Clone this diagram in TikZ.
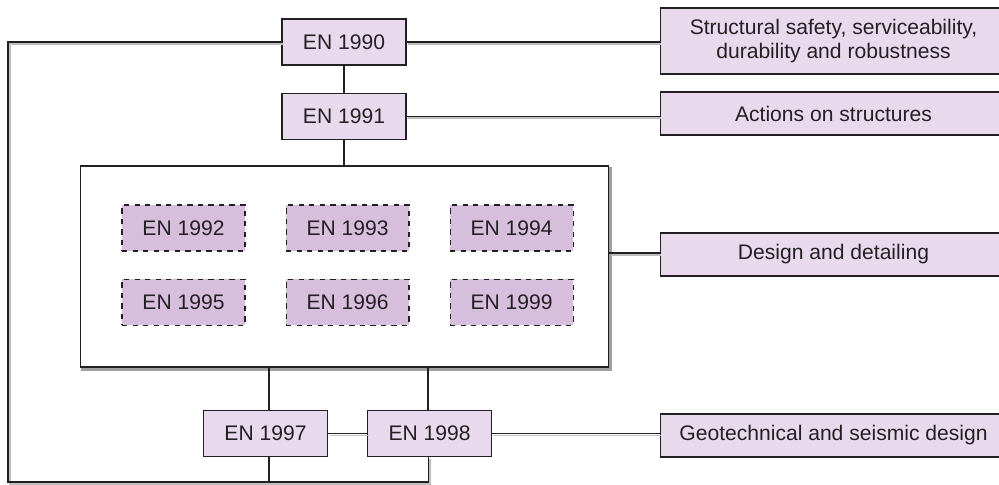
\documentclass[tikz,border=0pt]{standalone}
\usepackage{fontspec}
\setmainfont{Liberation Sans}
\usepackage{tikz}
\usetikzlibrary{positioning,calc}
\definecolor{lavlight}{RGB}{232,218,236}
\definecolor{lavmid}{RGB}{216,190,221}
\definecolor{edge}{RGB}{35,32,35}

\begin{document}
\begin{tikzpicture}[x=0.02cm, y=-0.02cm, font=\fontsize{12}{13.5}\selectfont, text=edge]
\tikzstyle{enbox}=[draw=edge, line width=0.6pt, fill=lavlight, minimum width=2.48cm, minimum height=0.92cm, inner sep=0pt]
\tikzstyle{subbox}=[draw=edge, dashed, line width=0.6pt, fill=lavmid, minimum width=2.46cm, minimum height=0.92cm, inner sep=0pt]
\tikzstyle{topic}=[draw=edge, line width=0.6pt, fill=lavlight, minimum width=6.94cm, minimum height=0.86cm, align=center, inner sep=0pt]
\tikzstyle{group}=[draw=edge, line width=0.6pt, fill=white, minimum width=10.58cm, minimum height=4.02cm, preaction={draw=gray!75, line width=1.4pt, transform canvas={shift={(1pt,-1.5pt)}}}]
\tikzstyle{line}=[draw=edge, line width=0.7pt]
\tikzstyle{link}=[draw=edge, line width=0.6pt, preaction={draw=gray!50, line width=0.9pt, transform canvas={shift={(1.1pt,-1.2pt)}}}]
\useasboundingbox (0,0) rectangle (999,484);
% standards column
\node[enbox] (en1990) at (344,42) {EN 1990};
\node[enbox, below=0.54cm of en1990] (en1991) {EN 1991};
\node[group] (grp) at (344.5,266.5) {};
\node[subbox] (en1992) at (183.5,228) {EN 1992};
\node[subbox, right=0.8cm of en1992] (en1993) {EN 1993};
\node[subbox, right=0.8cm of en1993] (en1994) {EN 1994};
\node[subbox, below=0.54cm of en1992] (en1995) {EN 1995};
\node[subbox, right=0.8cm of en1995] (en1996) {EN 1996};
\node[subbox, right=0.8cm of en1996] (en1999) {EN 1999};
\node[enbox] (en1997) at (265.5,433.5) {EN 1997};
\node[enbox, right=0.78cm of en1997] (en1998) {EN 1998};
% topics on the right
\node[topic, minimum height=1.32cm] (safety) at (833.5,41) {Structural safety, serviceability,\\durability and robustness};
\node[topic] (actions) at (833.5,113.5) {Actions on structures};
\node[topic] (design) at (833.5,254.5) {Design and detailing};
\node[topic] (geo) at (833.5,435.5) {Geotechnical and seismic design};
\coordinate (fb) at (8,482);
% connectors
\draw[line] (en1990) -- (en1991);
\draw[line] (en1991.south) -- (en1991.south |- grp.north);
\draw[line] ([xshift=0.07cm]en1997.north) -- ([xshift=0.07cm]en1997.north |- grp.south);
\draw[line] ([xshift=-0.03cm]en1998.north) -- ([xshift=-0.03cm]en1998.north |- grp.south);
\draw[line] ([xshift=0.07cm]en1997.south) -- ([xshift=0.07cm]en1997.south |- fb);
\draw[link] ([xshift=-0.03cm]en1998.south) |- (fb) |- (en1990.west);
\draw[link] (en1990.east) -- (en1990.east -| safety.west);
\draw[link] (en1991.east) -- (en1991.east -| actions.west);
\draw[link] ([yshift=0.03cm]grp.east |- design) -- ([yshift=0.03cm]design.west);
\draw[link] (en1997) -- (en1998);
\draw[link] (en1998.east) -- (en1998.east -| geo.west);
\end{tikzpicture}
\end{document}
